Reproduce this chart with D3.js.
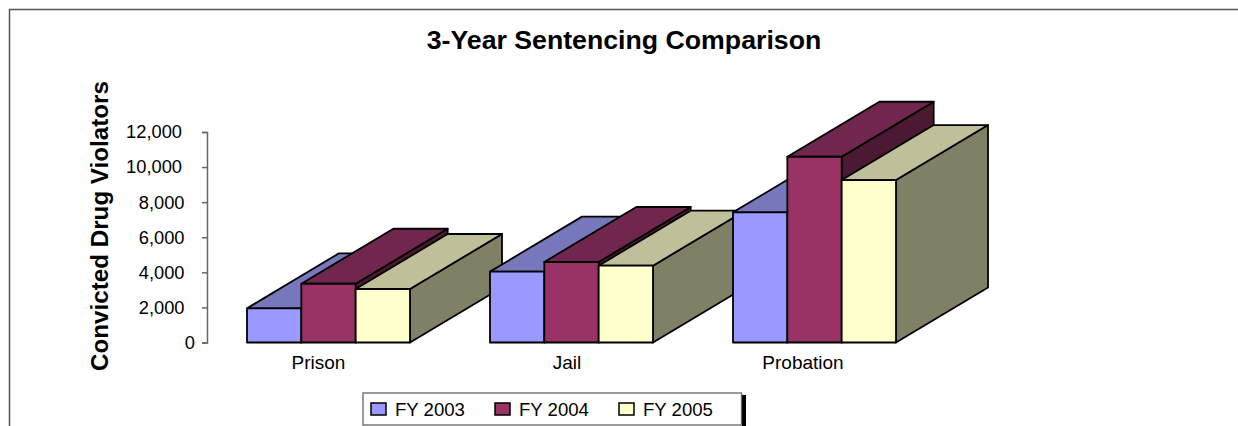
<!DOCTYPE html>
<html>
<head>
<meta charset="utf-8">
<script src="https://cdn.jsdelivr.net/npm/d3@7"></script>
<style>
	html, body { margin: 0; padding: 0; background: #fff; overflow: hidden; }
	svg { display: block; }
	text { font-family: "Liberation Sans", Arial, sans-serif; fill: #000; }
</style>
</head>
<body>
<div id="chart"></div>
<script>
const categories = ["Prison", "Jail", "Probation"];
const seriesNames = ["FY 2003", "FY 2004", "FY 2005"];
const fy2003 = [1950, 4040, 7420];
const fy2004 = [3350, 4590, 10590];
const fy2005 = [3050, 4380, 9260];
const yTicks = [0, 2000, 4000, 6000, 8000, 10000, 12000];

const seriesValues = [fy2003, fy2004, fy2005];
const frontColors = ["#9999FF", "#993366", "#FFFFCC"];
const topColors = ["#7777BB", "#70264D", "#BFBF99"];
const sideColors = ["#4C4C80", "#4C1933", "#808066"];

const width = 1238, height = 426;
const depthX = 92, depthY = 55; // oblique offset of the 3D boxes
const labelShift = [-10, -4.5, -11.5]; // category labels sit left of the band centre

const svg = d3.select("#chart").append("svg")
	.attr("width", width)
	.attr("height", height);

// outer frame, only left and top edges are in view
svg.append("path")
	.attr("d", "M9.5," + height + "V9.5H" + width)
	.attr("fill", "none")
	.attr("stroke", "#555")
	.attr("stroke-width", 1.5);

let xCat = d3.scaleBand().domain(categories).range([207, 936]);
let xBar = d3.scaleBand().domain(seriesNames).range([40, 203]);
let yScale = d3.scaleLinear().domain([0, 12000]).range([342.5, 132]);

svg.append("text")
	.attr("x", 624)
	.attr("y", 49)
	.attr("text-anchor", "middle")
	.style("font-size", "26.7px")
	.style("font-weight", "bold")
	.text("3-Year Sentencing Comparison");

svg.append("text")
	.attr("transform", "translate(108,226) rotate(-90)")
	.attr("text-anchor", "middle")
	.style("font-size", "24.2px")
	.style("font-weight", "bold")
	.text("Convicted Drug Violators");

// y axis
let yAxis = svg.append("g")
	.attr("transform", "translate(207,0)")
	.call(d3.axisLeft(yScale).tickValues(yTicks).tickSize(5).tickSizeOuter(5).tickFormat(d3.format(",")));
yAxis.selectAll("path, line").attr("stroke", "#666").attr("stroke-width", 1.5);
yAxis.selectAll("text")
	.attr("x", function(d) { return d === 0 ? -12 : (d < 10000 ? -22.5 : -25); })
	.style("font-size", "18.3px")
	.style("font-family", '"Liberation Sans", Arial, sans-serif');

// boxes, painted left to right so nearer faces cover the ones behind
const pts = (a) => a.map(p => p.join(",")).join(" ");

categories.forEach(function(cat, c) {
	seriesNames.forEach(function(name, s) {
		let x0 = xCat(cat) + xBar(name);
		let x1 = x0 + xBar.bandwidth();
		let y0 = yScale(0);
		let y1 = yScale(seriesValues[s][c]);

		let box = svg.append("g")
			.attr("stroke", "#000")
			.attr("stroke-width", 1.8)
			.attr("stroke-linejoin", "round");

		box.append("polygon")
			.attr("points", pts([[x1, y0], [x1 + depthX, y0 - depthY], [x1 + depthX, y1 - depthY], [x1, y1]]))
			.attr("fill", sideColors[s]);
		box.append("polygon")
			.attr("points", pts([[x0, y1], [x1, y1], [x1 + depthX, y1 - depthY], [x0 + depthX, y1 - depthY]]))
			.attr("fill", topColors[s]);
		box.append("rect")
			.attr("x", x0)
			.attr("y", y1)
			.attr("width", x1 - x0)
			.attr("height", y0 - y1)
			.attr("fill", frontColors[s]);
	});
});

// category labels
svg.selectAll(".cat-label")
	.data(categories)
	.enter().append("text")
	.attr("class", "cat-label")
	.attr("x", (d, i) => xCat(d) + xCat.bandwidth() / 2 + labelShift[i])
	.attr("y", 369)
	.attr("text-anchor", "middle")
	.style("font-size", "19px")
	.text(d => d);

// legend, with its black drop shadow on the right
let legend = svg.append("g");
legend.append("rect")
	.attr("x", 742).attr("y", 395)
	.attr("width", 4).attr("height", 31)
	.attr("fill", "#000");
legend.append("rect")
	.attr("x", 363).attr("y", 393)
	.attr("width", 378.5).attr("height", 32)
	.attr("fill", "#fff")
	.attr("stroke", "#666")
	.attr("stroke-width", 1.3);

let xLegend = d3.scalePoint().domain(seriesNames).range([371, 619]);

seriesNames.forEach(function(name, s) {
	legend.append("rect")
		.attr("x", xLegend(name))
		.attr("y", 403)
		.attr("width", 15)
		.attr("height", 12)
		.attr("fill", frontColors[s])
		.attr("stroke", "#000")
		.attr("stroke-width", 1.5);
	legend.append("text")
		.attr("x", xLegend(name) + 24)
		.attr("y", 415.5)
		.style("font-size", "18.6px")
		.text(name);
});
</script>
</body>
</html>
